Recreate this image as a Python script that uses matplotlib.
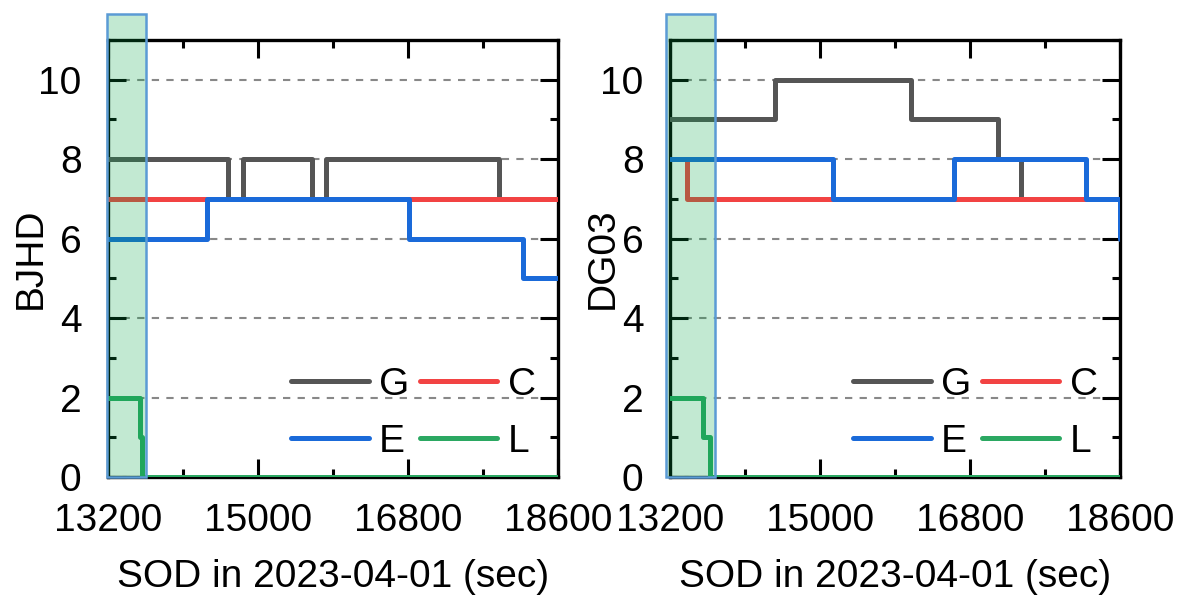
import matplotlib
matplotlib.use("Agg")
import matplotlib.pyplot as plt
from matplotlib.patches import Rectangle
from matplotlib import font_manager
from matplotlib.ticker import MultipleLocator, FixedLocator

# ---------------- data ----------------
x_ticks = [13200, 15000, 16800, 18600]
x_minor = [14100, 15900, 17700]
x_limits = [13200, 18600]
y_ticks = [0, 2, 4, 6, 8, 10]
xlabel = "SOD in 2023-04-01 (sec)"
stations = ["BJHD", "DG03"]
systems = ["G", "C", "E", "L"]
shade_span = {"BJHD": [13190, 13656], "DG03": [13150, 13740]}

# BJHD
bjhd_G_t = [13200, 14640, 14820, 15648, 15816, 17892, 18600]
bjhd_G_v = [8, 7, 8, 7, 8, 7, 7]
bjhd_C_t = [13200, 18600]
bjhd_C_v = [7, 7]
bjhd_E_t = [13200, 14388, 16812, 18180, 18600]
bjhd_E_v = [6, 7, 6, 5, 5]
bjhd_L_t = [13200, 13584, 13608, 18600]
bjhd_L_v = [2, 1, 0, 0]

# DG03
dg03_G_t = [13200, 14460, 16092, 17136, 17412, 18600]
dg03_G_v = [9, 10, 9, 8, 7, 7]
dg03_C_t = [13200, 13404, 18600]
dg03_C_v = [8, 7, 7]
dg03_E_t = [13200, 15156, 16608, 18192, 18600]
dg03_E_v = [8, 7, 8, 7, 6]
dg03_L_t = [13200, 13596, 13680, 18600]
dg03_L_v = [2, 1, 0, 0]

series = {
    "BJHD": {"G": (bjhd_G_t, bjhd_G_v), "C": (bjhd_C_t, bjhd_C_v),
             "E": (bjhd_E_t, bjhd_E_v), "L": (bjhd_L_t, bjhd_L_v)},
    "DG03": {"G": (dg03_G_t, dg03_G_v), "C": (dg03_C_t, dg03_C_v),
             "E": (dg03_E_t, dg03_E_v), "L": (dg03_L_t, dg03_L_v)},
}
colors = {"G": "#555555", "C": "#f24343", "E": "#1a6ad9", "L": "#2ba862"}

# ---------------- style ----------------
avail = {f.name for f in font_manager.fontManager.ttflist}
fam = [f for f in ["Liberation Sans", "Arial", "DejaVu Sans"] if f in avail]
plt.rcParams["font.family"] = fam
plt.rcParams["font.size"] = 28

fig = plt.figure(figsize=(11.78, 6.13), dpi=100)
W, H = 1178, 613
axes_px = [(108, 40, 558, 477), (670, 40, 1120, 477)]
ylabel_x = {"BJHD": -0.131, "DG03": -0.11}

for st, (l, t, r, b) in zip(stations, axes_px):
    ax = fig.add_axes([l / W, 1 - b / H, (r - l) / W, (b - t) / H])
    handles = {}
    for sys in systems:
        tt, vv = series[st][sys]
        ln, = ax.step(tt, vv, where="post", color=colors[sys], lw=3.6,
                      solid_joinstyle="round", solid_capstyle="round", label=sys,
                      zorder=3)
        handles[sys] = ln
    ax.set_xlim(*x_limits)
    ax.set_ylim(0, 11)
    ax.set_xticks(x_ticks)
    ax.xaxis.set_minor_locator(FixedLocator(x_minor))
    ax.set_yticks(y_ticks)
    ax.yaxis.set_minor_locator(MultipleLocator(1))
    ax.tick_params(which="both", direction="in", top=True, right=True, width=2.2, color="black")
    ax.tick_params(which="major", length=13)
    ax.tick_params(which="minor", length=6)
    ax.tick_params(axis="x", which="major", pad=19)
    ax.tick_params(axis="y", which="major", pad=19)
    for s in ax.spines.values():
        s.set_linewidth(2.4)
    ax.yaxis.grid(True, which="major", linestyle=(0, (3.5, 3.5)), color="#888888", lw=1.5, zorder=1)
    ax.set_xlabel(xlabel, labelpad=14)
    ax.set_ylabel(st)
    ax.yaxis.set_label_coords(ylabel_x[st], 0.5)

    x0, x1 = shade_span[st]
    rect = Rectangle((x0, 0), x1 - x0, 11.65, facecolor=(0.0, 0.64, 0.27, 0.24),
                     edgecolor="#5b9bd5", lw=1.8, clip_on=False, zorder=5)
    ax.add_patch(rect)

    order = ["G", "E", "C", "L"]  # column-wise fill -> rows: G C / E L
    leg = ax.legend([handles[k] for k in order], order, ncol=2, loc="lower right",
                    bbox_to_anchor=(0.95, 0.04),
                    frameon=False, handlelength=2.0, handletextpad=0.26,
                    columnspacing=0.26, labelspacing=0.54, borderpad=0.0,
                    borderaxespad=0.0)
    for ln in leg.get_lines():
        ln.set_linewidth(3.6)
        ln.set_solid_capstyle("round")

fig.savefig("out.png", dpi=100)
